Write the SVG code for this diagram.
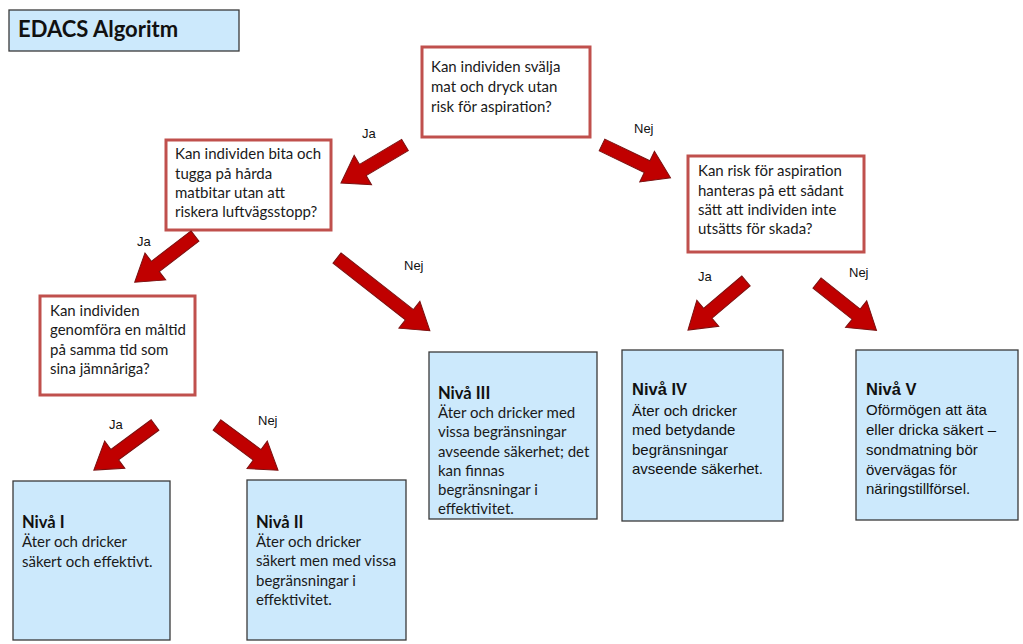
<svg xmlns="http://www.w3.org/2000/svg" xmlns:xlink="http://www.w3.org/1999/xlink" width="1023" height="644" viewBox="0 0 1023 644">
<style>
.q{fill:#fff;stroke:#C0504D;stroke-width:3}
.lv{fill:#CCE9FC;stroke:#3a3a3a;stroke-width:1.3}
.c{font-family:Lato,"Liberation Sans",sans-serif;font-size:15px;fill:#1a1a1a}
.a{font-family:"Liberation Sans",Arial,sans-serif;font-size:15px;fill:#111}
.cb{font-family:Lato,"Liberation Sans",sans-serif;font-size:16.5px;font-weight:bold;fill:#111}
.ab{font-family:"Liberation Sans",Arial,sans-serif;font-size:16.5px;font-weight:bold;fill:#111}
.lab{font-family:"Liberation Sans",Arial,sans-serif;font-size:13px;fill:#111}
.arr{fill:#C00000;stroke:#7a1010;stroke-width:1}
</style>
<defs>
<path id="a76" d="M0,-6.5 H50 V-17 L76,0 L50,17 V6.5 H0 Z"/>
<path id="a118" d="M0,-6.5 H92 V-17 L118,0 L92,17 V6.5 H0 Z"/>
</defs>
<rect width="1023" height="644" fill="#fff"/>
<g id="title">
<rect x="9" y="10" width="230" height="41" fill="#CCE9FC" stroke="#3a3a3a" stroke-width="1.3"/>
<text x="18" y="37" font-family="Lato,'Liberation Sans',sans-serif" font-size="22" font-weight="bold" fill="#111">EDACS Algoritm</text>
</g>
<g id="q1">
<rect class="q" x="422" y="47" width="168" height="90"/>
<text class="c" x="431" y="72">Kan individen svälja</text>
<text class="c" x="431" y="92">mat och dryck utan</text>
<text class="c" x="431" y="112">risk för aspiration?</text>
</g>
<g id="q2">
<rect class="q" x="166" y="140" width="165" height="90"/>
<text class="c" x="175" y="159">Kan individen bita och</text>
<text class="c" x="175" y="179">tugga på hårda</text>
<text class="c" x="175" y="198">matbitar utan att</text>
<text class="c" x="175" y="217">riskera luftvägsstopp?</text>
</g>
<g id="q3">
<rect class="q" x="688" y="156" width="176" height="96"/>
<text class="c" x="698" y="176">Kan risk för aspiration</text>
<text class="c" x="698" y="196">hanteras på ett sådant</text>
<text class="c" x="698" y="215">sätt att individen inte</text>
<text class="c" x="698" y="234">utsätts för skada?</text>
</g>
<g id="q4">
<rect class="q" x="40" y="296" width="155" height="99"/>
<text class="c" x="50" y="316">Kan individen</text>
<text class="c" x="50" y="335">genomföra en måltid</text>
<text class="c" x="50" y="355">på samma tid som</text>
<text class="c" x="50" y="374">sina jämnåriga?</text>
</g>
<g id="niva1">
<rect class="lv" x="13" y="481" width="157" height="159"/>
<text class="cb" x="22" y="528">Nivå I</text>
<text class="c" x="22" y="547">Äter och dricker</text>
<text class="c" x="22" y="567">säkert och effektivt.</text>
</g>
<g id="niva2">
<rect class="lv" x="247" y="480" width="159" height="160"/>
<text class="cb" x="256" y="528">Nivå II</text>
<text class="c" x="256" y="547">Äter och dricker</text>
<text class="c" x="256" y="566">säkert men med vissa</text>
<text class="c" x="256" y="586">begränsningar i</text>
<text class="c" x="256" y="605">effektivitet.</text>
</g>
<g id="niva3">
<rect class="lv" x="429" y="352" width="168" height="167"/>
<text class="cb" x="438" y="399">Nivå III</text>
<text class="c" x="438" y="418">Äter och dricker med</text>
<text class="c" x="438" y="437">vissa begränsningar</text>
<text class="c" x="438" y="457">avseende säkerhet; det</text>
<text class="c" x="438" y="476">kan finnas</text>
<text class="c" x="438" y="495">begränsningar i</text>
<text class="c" x="438" y="514">effektivitet.</text>
</g>
<g id="niva4">
<rect class="lv" x="622" y="350" width="161" height="171"/>
<text class="ab" x="632" y="395">Nivå IV</text>
<text class="a" x="632" y="416">Äter och dricker</text>
<text class="a" x="632" y="435">med betydande</text>
<text class="a" x="632" y="455">begränsningar</text>
<text class="a" x="632" y="474">avseende säkerhet.</text>
</g>
<g id="niva5">
<rect class="lv" x="856" y="350" width="162" height="170"/>
<text class="ab" x="866" y="395">Nivå V</text>
<text class="a" x="866" y="415">Oförmögen att äta</text>
<text class="a" x="866" y="435">eller dricka säkert –</text>
<text class="a" x="866" y="455">sondmatning bör</text>
<text class="a" x="866" y="475">övervägas för</text>
<text class="a" x="866" y="494">näringstillförsel.</text>
</g>
<g id="connectors">
<use xlink:href="#a76" class="arr" transform="translate(405,145) rotate(149.3) scale(0.98,1)"/>
<use xlink:href="#a76" class="arr" transform="translate(602,145) rotate(25.6)"/>
<use xlink:href="#a76" class="arr" transform="translate(195,236) rotate(142.5)"/>
<use xlink:href="#a118" class="arr" transform="translate(337,258) rotate(38.1)"/>
<use xlink:href="#a76" class="arr" transform="translate(746,281) rotate(139.8)"/>
<use xlink:href="#a76" class="arr" transform="translate(817,283) rotate(38.5)"/>
<use xlink:href="#a76" class="arr" transform="translate(155,425) rotate(143.6)"/>
<use xlink:href="#a76" class="arr" transform="translate(217,425) rotate(36.6)"/>
<text class="lab" x="362" y="138">Ja</text>
<text class="lab" x="634" y="133">Nej</text>
<text class="lab" x="137" y="246">Ja</text>
<text class="lab" x="404" y="270">Nej</text>
<text class="lab" x="698" y="281">Ja</text>
<text class="lab" x="849" y="277">Nej</text>
<text class="lab" x="109" y="429">Ja</text>
<text class="lab" x="258" y="425">Nej</text>
</g>
</svg>
